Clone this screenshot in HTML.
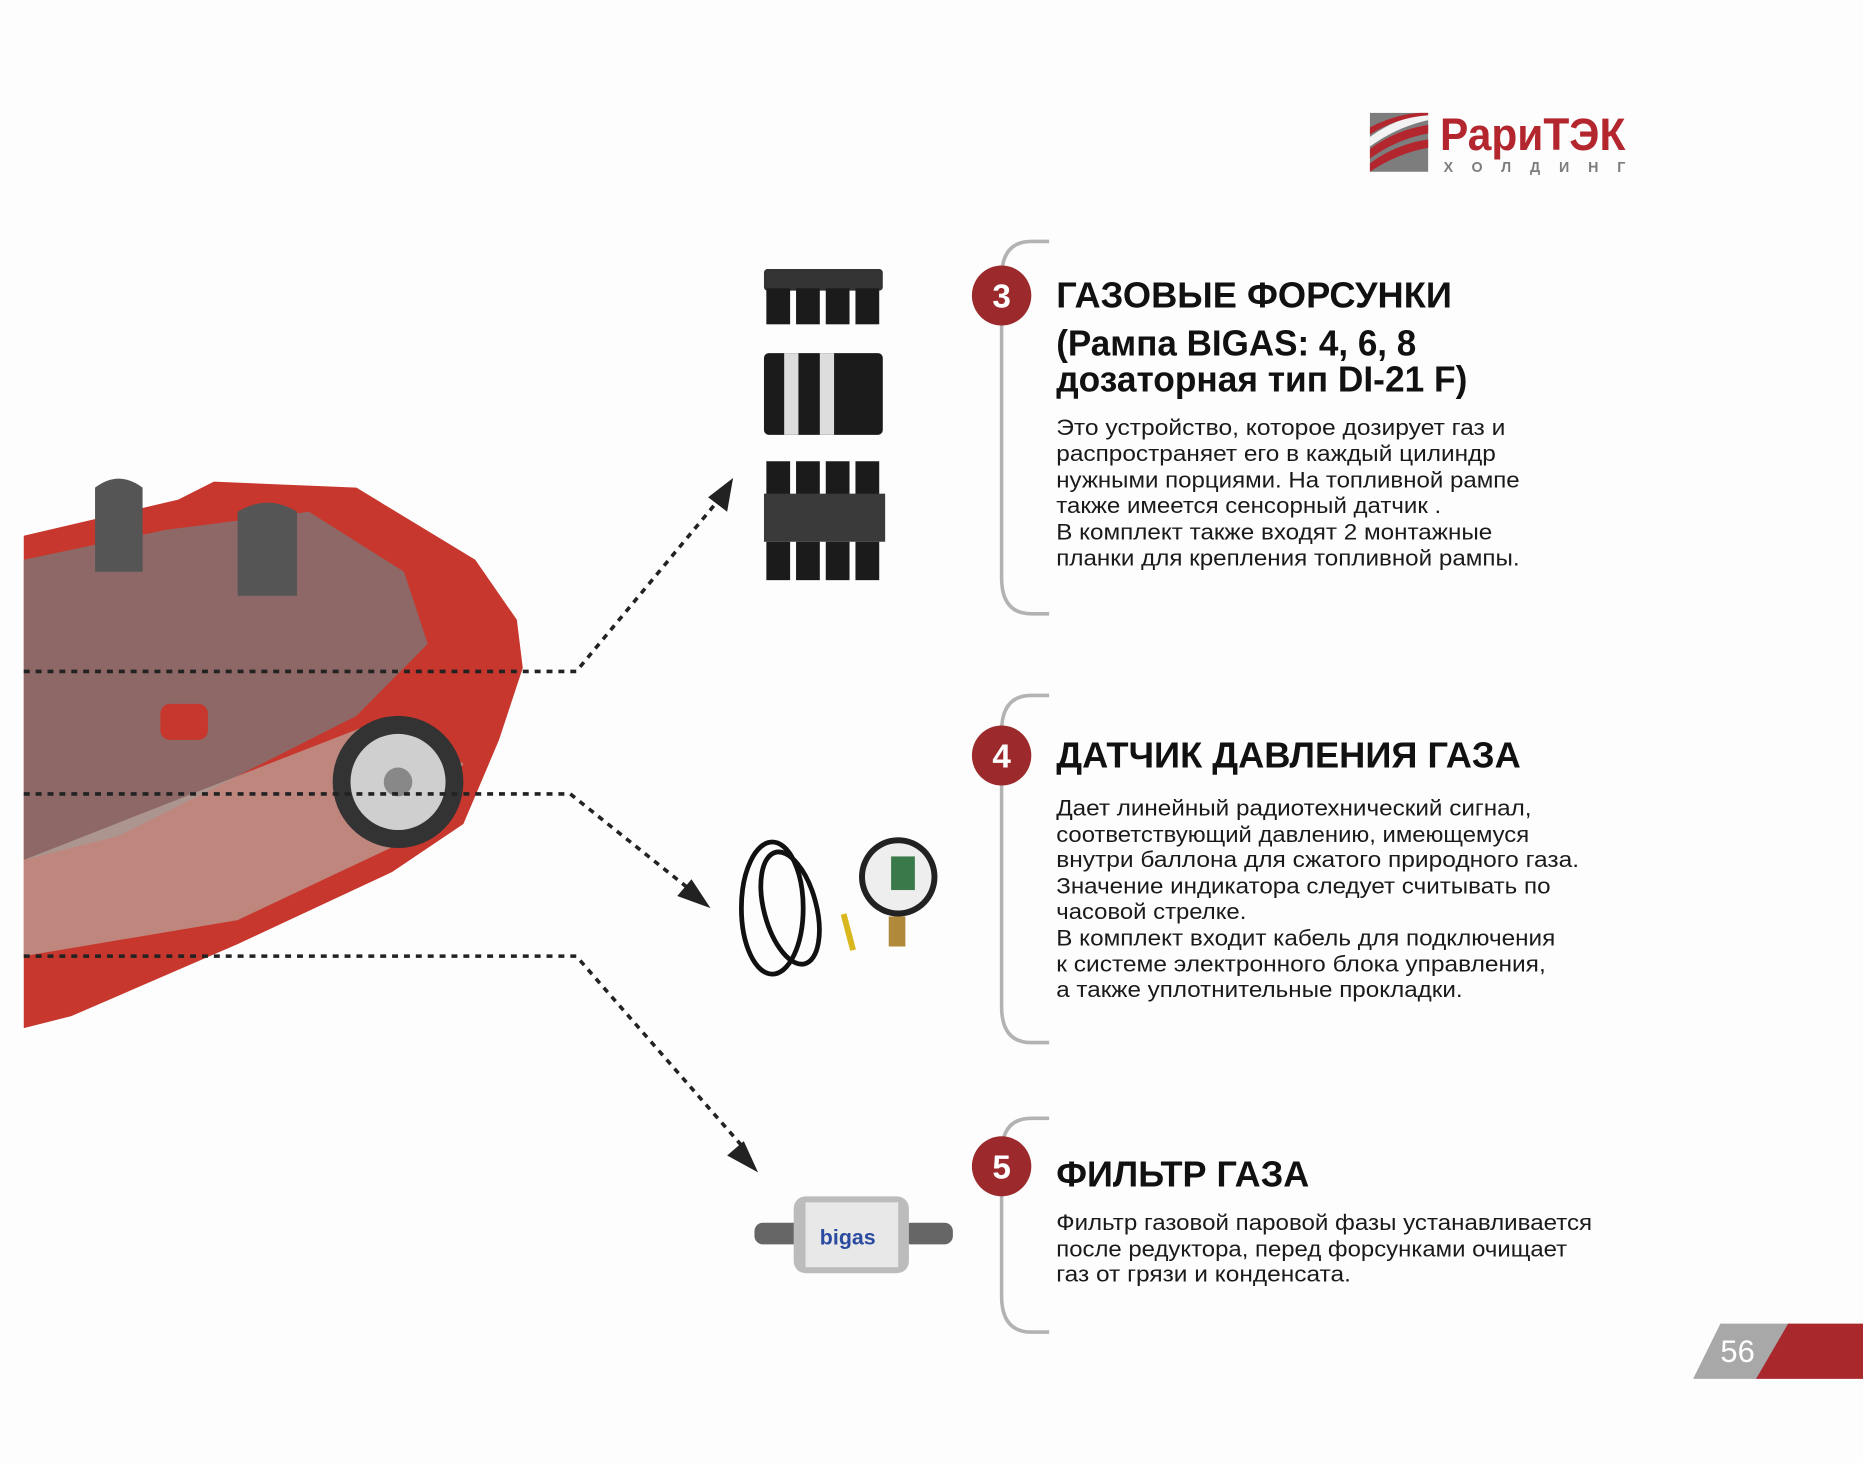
<!DOCTYPE html>
<html><head><meta charset="utf-8"><style>
html,body{margin:0;padding:0;background:#fdfdfd}
svg{display:block}
text{font-family:"Liberation Sans","DejaVu Sans",sans-serif}
.t{font-weight:bold;font-size:30px;fill:#111}
.b{font-size:18.5px;fill:#1a1a1a}
</style></head><body>
<svg width="1863" height="1463" viewBox="0 0 1568 1218" preserveAspectRatio="none" xmlns="http://www.w3.org/2000/svg">
<rect width="1568" height="1218" fill="#fdfdfd"/>
<g transform="translate(0,-4)">
<!-- logo -->
<rect x="1153" y="98" width="49" height="49" fill="#7d7d7d"/>
<path d="M1153 128 Q1175 112 1202 108 L1202 115 Q1175 120 1153 136Z" fill="#b3262e"/>
<path d="M1153 118 Q1175 102 1202 98 L1202 104 Q1175 110 1153 126Z" fill="#fff" opacity=".9"/>
<path d="M1153 140 Q1175 124 1202 120 L1202 127 Q1175 132 1153 147Z" fill="#b3262e"/>
<path d="M1153 110 Q1175 99 1195 98 L1202 98 L1202 100 Q1175 102 1153 116Z" fill="#b3262e"/>
<text x="1212" y="129" font-size="38" font-weight="bold" fill="#b3262e" textLength="156" lengthAdjust="spacingAndGlyphs">РариТЭК</text>
<text x="1215" y="147" font-size="12" font-weight="bold" fill="#7d7d7d" textLength="153" lengthAdjust="spacing">ХОЛДИНГ</text>
<!-- car approximation -->
<path d="M20 450 L150 420 L180 405 L300 410 L400 470 L435 520 L440 560 L420 620 L390 690 L330 730 L200 790 L60 850 L20 860Z" fill="#c8372d"/>
<path d="M20 470 L140 445 L260 430 L340 480 L360 540 L300 600 L200 650 L100 700 L20 720Z" fill="#7a7a7a" opacity=".75"/>
<path d="M20 720 L200 650 L330 600 L390 640 L350 700 L200 770 L20 800Z" fill="#b9a8a0" opacity=".7"/>
<circle cx="335" cy="655" r="55" fill="#333"/><circle cx="335" cy="655" r="40" fill="#cfcfcf"/><circle cx="335" cy="655" r="12" fill="#888"/>
<path d="M80 410 Q100 395 120 410 L120 480 L80 480Z M200 430 Q225 415 250 430 L250 500 L200 500Z" fill="#555"/>
<rect x="135" y="590" width="40" height="30" rx="8" fill="#c8372d"/>
<!-- dotted connectors -->
<g stroke="#222" stroke-width="3" stroke-dasharray="5 5" fill="none">
<polyline points="20,563 485,563 605,420"/>
<polyline points="20,665 480,665 585,748"/>
<polyline points="20,800 485,800 628,962"/>
</g>
<polygon points="617,402 612,430 596,418" fill="#222"/>
<polygon points="598,760 570,750 582,736" fill="#222"/>
<polygon points="638,980 612,966 626,954" fill="#222"/>
<!-- products -->
<g fill="#1b1b1b">
<rect x="643" y="228" width="100" height="18" rx="3" fill="#333"/>
<rect x="645" y="244" width="20" height="30"/><rect x="670" y="244" width="20" height="30"/><rect x="695" y="244" width="20" height="30"/><rect x="720" y="244" width="20" height="30"/>
<rect x="643" y="298" width="100" height="68" rx="4"/>
<rect x="660" y="298" width="12" height="68" fill="#ddd"/><rect x="690" y="298" width="12" height="68" fill="#ddd"/>
<rect x="645" y="388" width="20" height="30"/><rect x="670" y="388" width="20" height="30"/><rect x="695" y="388" width="20" height="30"/><rect x="720" y="388" width="20" height="30"/>
<rect x="643" y="415" width="102" height="40" fill="#3a3a3a"/>
<rect x="645" y="455" width="20" height="32"/><rect x="670" y="455" width="20" height="32"/><rect x="695" y="455" width="20" height="32"/><rect x="720" y="455" width="20" height="32"/>
</g>
<g fill="none" stroke="#111" stroke-width="4">
<ellipse cx="650" cy="760" rx="26" ry="55"/><ellipse cx="665" cy="760" rx="22" ry="48" transform="rotate(-15 665 760)"/>
</g>
<line x1="710" y1="765" x2="718" y2="795" stroke="#d8b81c" stroke-width="5"/>
<circle cx="756" cy="734" r="33" fill="#222"/><circle cx="756" cy="734" r="28" fill="#eee"/>
<rect x="750" y="717" width="20" height="28" fill="#3a7a4a"/>
<rect x="748" y="767" width="14" height="25" fill="#b08a3a"/>
<rect x="635" y="1022" width="40" height="18" rx="7" fill="#666"/>
<rect x="760" y="1022" width="42" height="18" rx="7" fill="#666"/>
<rect x="668" y="1000" width="97" height="64" rx="10" fill="#bcbcbc"/>
<rect x="678" y="1005" width="78" height="54" fill="#e8e8e8"/>
<text x="690" y="1040" font-size="18" font-weight="bold" fill="#2a4aa0">bigas</text>
<!-- brackets -->
<g fill="none" stroke="#b3b3b3" stroke-width="3">
<path d="M883 205 L868 205 Q843 205 843 235 L843 485 Q843 515 868 515 L883 515"/>
<path d="M883 583 L868 583 Q843 583 843 613 L843 842 Q843 872 868 872 L883 872"/>
<path d="M883 935 L868 935 Q843 935 843 965 L843 1083 Q843 1113 868 1113 L883 1113"/>
</g>
<g fill="#9c2a2c">
<circle cx="843" cy="250" r="25"/><circle cx="843" cy="633" r="25"/><circle cx="843" cy="975" r="25"/>
</g>
<g fill="#fff" font-size="28" font-weight="bold" text-anchor="middle">
<text x="843" y="260">3</text><text x="843" y="643">4</text><text x="843" y="985">5</text>
</g>
<!-- section 3 -->
<text class="t" x="889" y="260" textLength="333" lengthAdjust="spacingAndGlyphs">ГАЗОВЫЕ ФОРСУНКИ</text>
<text class="t" x="889" y="300" textLength="303" lengthAdjust="spacingAndGlyphs">(Рампа BIGAS: 4, 6, 8</text>
<text class="t" x="889" y="330" textLength="346" lengthAdjust="spacingAndGlyphs">дозаторная тип DI-21 F)</text>
<text class="b" x="889" y="366" textLength="378" lengthAdjust="spacingAndGlyphs">Это устройство, которое дозирует газ и</text>
<text class="b" x="889" y="388" textLength="370" lengthAdjust="spacingAndGlyphs">распространяет его в каждый цилиндр</text>
<text class="b" x="889" y="410" textLength="390" lengthAdjust="spacingAndGlyphs">нужными порциями. На топливной рампе</text>
<text class="b" x="889" y="431" textLength="324" lengthAdjust="spacingAndGlyphs">также имеется сенсорный датчик .</text>
<text class="b" x="889" y="453" textLength="367" lengthAdjust="spacingAndGlyphs">В комплект также входят 2 монтажные</text>
<text class="b" x="889" y="475" textLength="390" lengthAdjust="spacingAndGlyphs">планки для крепления топливной рампы.</text>
<!-- section 4 -->
<text class="t" x="889" y="643" textLength="391" lengthAdjust="spacingAndGlyphs">ДАТЧИК ДАВЛЕНИЯ ГАЗА</text>
<text class="b" x="889" y="683" textLength="400" lengthAdjust="spacingAndGlyphs">Дает линейный радиотехнический сигнал,</text>
<text class="b" x="889" y="705" textLength="398" lengthAdjust="spacingAndGlyphs">соответствующий давлению, имеющемуся</text>
<text class="b" x="889" y="726" textLength="440" lengthAdjust="spacingAndGlyphs">внутри баллона для сжатого природного газа.</text>
<text class="b" x="889" y="748" textLength="416" lengthAdjust="spacingAndGlyphs">Значение индикатора следует считывать по</text>
<text class="b" x="889" y="769" textLength="160" lengthAdjust="spacingAndGlyphs">часовой стрелке.</text>
<text class="b" x="889" y="791" textLength="420" lengthAdjust="spacingAndGlyphs">В комплект входит кабель для подключения</text>
<text class="b" x="889" y="813" textLength="412" lengthAdjust="spacingAndGlyphs">к системе электронного блока управления,</text>
<text class="b" x="889" y="834" textLength="342" lengthAdjust="spacingAndGlyphs">а также уплотнительные прокладки.</text>
<!-- section 5 -->
<text class="t" x="889" y="992" textLength="213" lengthAdjust="spacingAndGlyphs">ФИЛЬТР ГАЗА</text>
<text class="b" x="889" y="1028" textLength="451" lengthAdjust="spacingAndGlyphs">Фильтр газовой паровой фазы устанавливается</text>
<text class="b" x="889" y="1050" textLength="430" lengthAdjust="spacingAndGlyphs">после редуктора, перед форсунками очищает</text>
<text class="b" x="889" y="1071" textLength="248" lengthAdjust="spacingAndGlyphs">газ от грязи и конденсата.</text>
<!-- page number -->
<polygon points="1448,1106 1510,1106 1480,1152 1425,1152" fill="#a8a8a8"/>
<polygon points="1505,1106 1568,1106 1568,1152 1478,1152" fill="#a8282c"/>
<text x="1448" y="1138" font-size="26" fill="#fff">56</text>
</g>
</svg>
</body></html>
